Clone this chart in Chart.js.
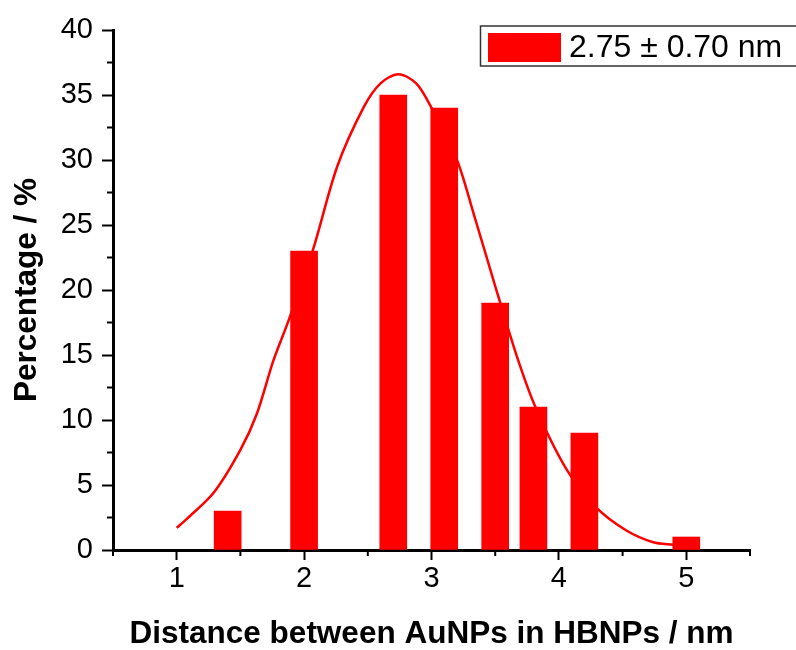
<!DOCTYPE html>
<html>
<head>
<meta charset="utf-8">
<script src="https://cdn.jsdelivr.net/npm/chart.js@4.4.1/dist/chart.umd.min.js"></script>
<style>
  body { margin: 0; background: #fff; }
  #wrap { width: 796px; height: 650px; }
</style>
</head>
<body>
<div id="wrap"><canvas id="myChart" width="796" height="650"></canvas></div>
<script>
// histogram bars (distance in nm, percentage)
const barX = [1.4, 2.0, 2.7, 3.1, 3.5, 3.8, 4.2, 5.0]
const barY = [3, 23, 35, 34, 19, 11, 9, 1]

// fitted curve
const curveX = [1.0, 1.08, 1.29, 1.5, 1.63, 1.76, 1.88, 2.07, 2.26, 2.47, 2.6, 2.74, 2.88, 2.99, 3.2, 3.33, 3.5, 3.67, 3.82, 4.06, 4.29, 4.53, 4.74, 4.9]
const curveY = [1.7, 2.4, 4.4, 7.7, 10.5, 14.6, 17.7, 23.1, 29.5, 34.1, 35.9, 36.6, 35.9, 34.2, 30.0, 25.9, 20.3, 14.9, 10.9, 6.2, 3.3, 1.5, 0.6, 0.4]

const xTicks = [1, 2, 3, 4, 5]
const yTicks = [0, 5, 10, 15, 20, 25, 30, 35, 40]
const xMinor = [0.5, 1.5, 2.5, 3.5, 4.5, 5.5]
const yMinor = [2.5, 7.5, 12.5, 17.5, 22.5, 27.5, 32.5, 37.5]

const legendText = '2.75 \u00B1 0.70 nm'
const red = '#FF0000'
const fontFamily = '"Liberation Sans", Arial, sans-serif'

// minor ticks + legend box
const extras = {
  id: 'extras',
  afterDraw(chart) {
    const ctx = chart.ctx
    const xs = chart.scales.x
    const ys = chart.scales.y
    ctx.save()
    ctx.strokeStyle = '#000'
    ctx.lineWidth = 2
    yMinor.forEach((v) => {
      const y = ys.getPixelForValue(v)
      ctx.beginPath()
      ctx.moveTo(xs.left - 6, y)
      ctx.lineTo(xs.left, y)
      ctx.stroke()
    })
    xMinor.forEach((v) => {
      const x = xs.getPixelForValue(v)
      ctx.beginPath()
      ctx.moveTo(x, ys.bottom)
      ctx.lineTo(x, ys.bottom + 6)
      ctx.stroke()
    })

    // legend
    ctx.lineWidth = 1.5
    ctx.strokeStyle = '#333'
    ctx.strokeRect(480.5, 26, 330, 40)
    ctx.fillStyle = red
    ctx.fillRect(488, 33, 73, 29)
    ctx.fillStyle = '#000'
    ctx.font = '32px ' + fontFamily
    ctx.textBaseline = 'alphabetic'
    ctx.fillText(legendText, 569, 57)
    ctx.restore()
  },
}

const ctx = document.getElementById('myChart').getContext('2d')

new Chart(ctx, {
  type: 'bar',
  data: {
    datasets: [
      {
        type: 'bar',
        label: legendText,
        data: barX.map((x, i) => ({ x: x, y: barY[i] })),
        backgroundColor: red,
        borderWidth: 0,
        barThickness: 27,
        order: 1,
      },
      {
        type: 'line',
        label: 'fit',
        data: curveX.map((x, i) => ({ x: x, y: curveY[i] })),
        borderColor: red,
        borderWidth: 2.5,
        pointRadius: 0,
        tension: 0.3,
        fill: false,
        order: 2,
      },
    ],
  },
  options: {
    responsive: false,
    animation: false,
    layout: { padding: { top: 30, right: 46, left: 0, bottom: 0 } },
    plugins: {
      legend: { display: false },
      tooltip: { enabled: false },
    },
    scales: {
      x: {
        type: 'linear',
        min: 0.5,
        max: 5.5,
        offset: false,
        afterBuildTicks: (scale) => {
          scale.ticks = xTicks.map((v) => ({ value: v }))
        },
        afterFit: (scale) => {
          scale.height = 100
        },
        border: { color: '#000', width: 3 },
        grid: {
          offset: false,
          drawOnChartArea: false,
          tickLength: 10,
          tickColor: '#000',
          tickWidth: 2,
        },
        ticks: {
          color: '#000',
          padding: 2,
          maxRotation: 0,
          font: { family: fontFamily, size: 29 },
        },
        title: {
          display: true,
          text: 'Distance between AuNPs in HBNPs / nm',
          color: '#000',
          font: { family: fontFamily, size: 31.5, weight: 'bold', lineHeight: 1 },
          padding: { top: 0, bottom: 0 },
        },
      },
      y: {
        type: 'linear',
        min: 0,
        max: 40,
        afterBuildTicks: (scale) => {
          scale.ticks = yTicks.map((v) => ({ value: v }))
        },
        afterFit: (scale) => {
          scale.width = 113
        },
        border: { color: '#000', width: 3 },
        grid: {
          drawOnChartArea: false,
          tickLength: 11,
          tickColor: '#000',
          tickWidth: 2,
        },
        ticks: {
          color: '#000',
          padding: 9,
          font: { family: fontFamily, size: 29 },
        },
        title: {
          display: true,
          text: 'Percentage / %',
          color: '#000',
          font: { family: fontFamily, size: 31.5, weight: 'bold', lineHeight: 1 },
          padding: { top: 12, bottom: 0 },
        },
      },
    },
  },
  plugins: [extras],
})
</script>
</body>
</html>
